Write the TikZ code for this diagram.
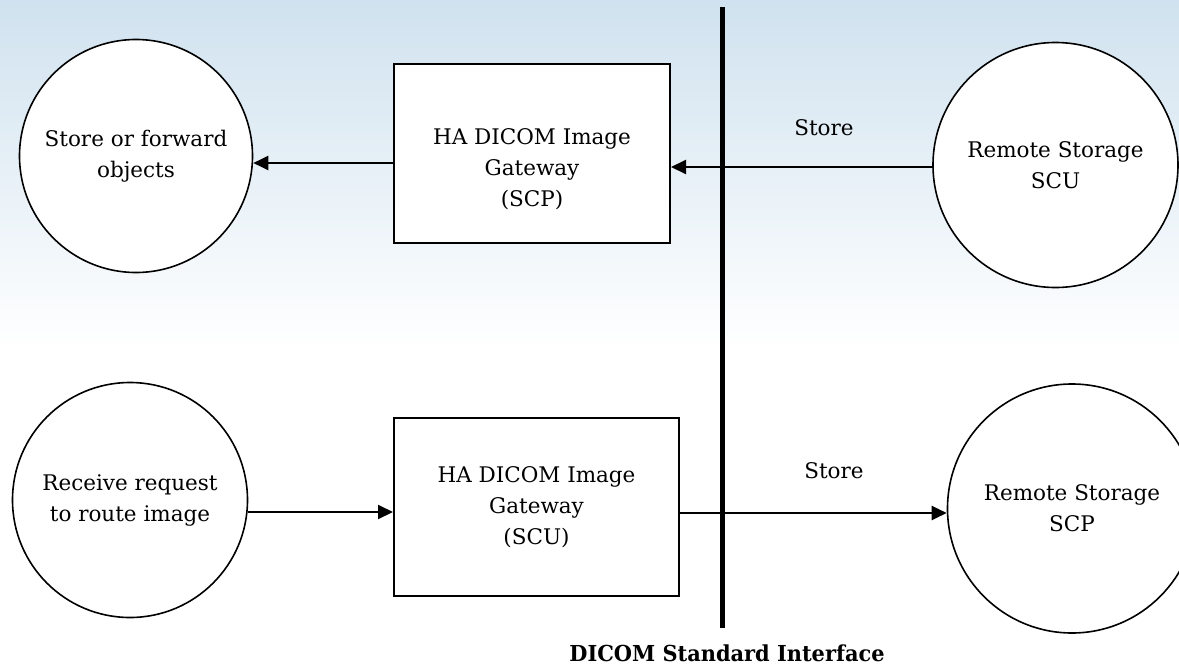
\documentclass[tikz,border=0pt]{standalone}
\usepackage{fontspec}
\setmainfont{DejaVu Serif}
\newfontfamily\dsibold[FakeStretch=0.95]{DejaVu Serif}
\usetikzlibrary{arrows.meta}
\definecolor{bgtop}{RGB}{208,226,239}
\begin{document}
\begin{tikzpicture}[x=1pt,y=-1pt,
  every node/.style={font=\fontsize{21.5}{31}\selectfont},
  circ/.style={circle, draw=black, line width=1.6pt, fill=white, inner sep=0pt, align=center},
  gate/.style={rectangle, draw=black, line width=2pt, fill=white, inner sep=0pt, align=center},
  arr/.style={line width=2pt, -{Triangle[length=15pt,width=14pt]}},
  lbl/.style={inner sep=0pt, align=center},
]
\useasboundingbox (0,0) rectangle (1179,667);
\fill[white] (0,0) rectangle (1179,667);
\shade[top color=bgtop, bottom color=white] (0,0) rectangle (1179,350);

\node[circ, minimum size=233] (c1) at (136,156) {Store or forward\\objects};
\node[circ, minimum size=245] (c2) at (1055.5,165) {Remote Storage\\SCU};
\node[circ, minimum size=235] (c3) at (130,500) {Receive request\\to route image};
\node[circ, minimum size=249] (c4) at (1072,508.5) {Remote Storage\\SCP};

\node[gate, minimum width=276, minimum height=179,
  label={[lbl, yshift=-16pt]center:HA DICOM Image\\Gateway\\(SCP)}] (g1) at (532,153.5) {};
\node[gate, minimum width=285, minimum height=178] (g2) at (536.5,507) {HA DICOM Image\\Gateway\\(SCU)};

\draw[arr] (g1.west |- 0,163) -- (c1.east |- 0,163);
\draw[arr] (c2.west |- 0,167) -- (g1.east |- 0,167);
\draw[arr] (c3.east |- 0,512) -- (g2.west |- 0,512);
\draw[arr] (g2.east |- 0,513) -- (c4.west |- 0,513);

\coordinate (vt) at (722,7);
\coordinate (vb) at (722,628);
\draw[line width=5pt] (vt) -- (vb);

\node (s1) at (824,128) {Store};
\node (s2) at (834,471) {Store};
\node[inner sep=0pt, font=\dsibold\fontsize{22}{26}\selectfont\bfseries] (dsi) at (727,653) {DICOM Standard Interface};
\end{tikzpicture}
\end{document}
